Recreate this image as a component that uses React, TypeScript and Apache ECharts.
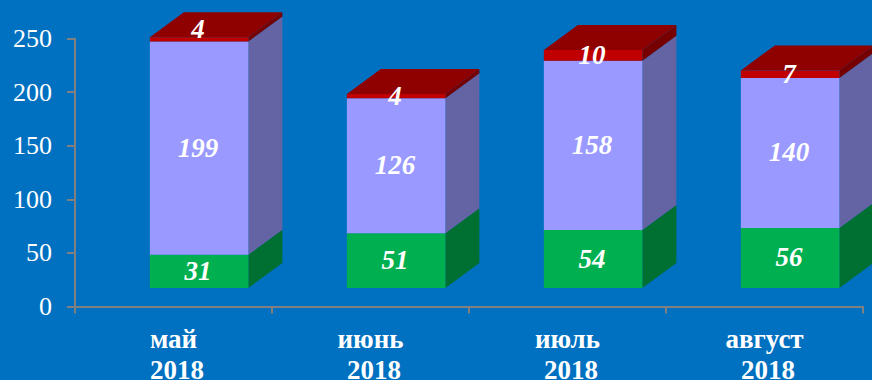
import React, { useEffect, useRef } from "react";
import * as echarts from "echarts";

const categories = ["май\n 2018", "июнь\n 2018", "июль\n 2018", "август\n 2018"];
const yTicks = { min: 0, max: 250, interval: 50 };
const green = [31, 51, 54, 56];
const purple = [199, 126, 158, 140];
const red = [4, 4, 10, 7];

const FONT = "'Liberation Serif', 'Times New Roman', serif";
const BG = "#0070C0";
const AXIS = "#808080";
const DEPTH_X = 34;
const DEPTH_Y = 25;
const FLOOR_LIFT = 18.5;
const BAR_SHIFT = 0.13;
const BAR_RATIO = 0.5;
// the first top label sits higher, on the roof of its column
const ROOF_LABEL_LIFT = 10;

const seriesOf = (
  values: number[],
  below: number[],
  front: string,
  side: string,
  top: string | null,
) => ({
  type: "custom",
  coordinateSystem: "cartesian2d",
  silent: true,
  clip: false,
  encode: { x: 0, y: [1, 2] },
  data: values.map((v, i) => [i, below[i], below[i] + v, v]),
  renderItem: (_: any, api: any) => {
    const i = api.value(0);
    const start = api.coord([i, api.value(1)]);
    const end = api.coord([i, api.value(2)]);
    const band = api.size([1, 0])[0];
    const w = band * BAR_RATIO;
    const cx = start[0] + band * BAR_SHIFT;
    const x0 = cx - w / 2;
    const x1 = cx + w / 2;
    const y0 = start[1] - FLOOR_LIFT;
    const y1 = end[1] - FLOOR_LIFT;
    const children: any[] = [
      {
        type: "polygon",
        shape: {
          points: [
            [x1, y0],
            [x1 + DEPTH_X, y0 - DEPTH_Y],
            [x1 + DEPTH_X, y1 - DEPTH_Y],
            [x1, y1],
          ],
        },
        style: { fill: side },
      },
      {
        type: "rect",
        shape: { x: x0, y: y1, width: w, height: y0 - y1 },
        style: { fill: front },
      },
    ];
    if (top) {
      children.push({
        type: "polygon",
        shape: {
          points: [
            [x0, y1],
            [x0 + DEPTH_X, y1 - DEPTH_Y],
            [x1 + DEPTH_X, y1 - DEPTH_Y],
            [x1, y1],
          ],
        },
        style: { fill: top },
      });
    }
    const lift = top && i === 0 ? ROOF_LABEL_LIFT : 0;
    children.push({
      type: "text",
      z2: 10,
      style: {
        x: cx - 1,
        y: (y0 + y1) / 2 - lift - 0.5,
        text: String(api.value(3)),
        fill: "#ffffff",
        font: `italic bold 27px ${FONT}`,
        align: "center",
        verticalAlign: "middle",
      },
    });
    return { type: "group", children };
  },
});

export default function App() {
  const ref = useRef<HTMLDivElement>(null);
  useEffect(() => {
    const chart = echarts.init(ref.current!, null, { renderer: "svg" });
    const belowPurple = green;
    const belowRed = green.map((g, i) => g + purple[i]);
    chart.setOption({
      animation: false,
      backgroundColor: BG,
      grid: {
        left: 75,
        right: 9,
        top: 38.5,
        height: 268,
        containLabel: false,
        outerBoundsMode: "none",
      },
      xAxis: {
        type: "category",
        data: categories,
        axisLine: { show: true, lineStyle: { color: AXIS, width: 2 } },
        axisTick: { show: true, length: 7, lineStyle: { color: AXIS, width: 2 } },
        axisLabel: {
          interval: 0,
          color: "#ffffff",
          fontFamily: FONT,
          fontWeight: "bold",
          fontSize: 27,
          lineHeight: 31,
          margin: 17,
          hideOverlap: false,
        },
        splitLine: { show: false },
      },
      yAxis: {
        type: "value",
        ...yTicks,
        axisLine: { show: true, lineStyle: { color: AXIS, width: 2 } },
        axisTick: { show: true, length: 8, lineStyle: { color: AXIS, width: 2 } },
        axisLabel: { color: "#ffffff", fontFamily: FONT, fontSize: 26, margin: 23 },
        splitLine: { show: false },
      },
      series: [
        seriesOf(green, green.map(() => 0), "#00B050", "#006F32", null),
        seriesOf(purple, belowPurple, "#9999FF", "#6464A5", null),
        seriesOf(red, belowRed, "#C00000", "#760000", "#8F0000"),
      ],
    });
    return () => chart.dispose();
  }, []);
  return (
    <div
      ref={ref}
      style={{ position: "fixed", left: 0, top: 0, width: 872, height: 380 }}
    />
  );
}
